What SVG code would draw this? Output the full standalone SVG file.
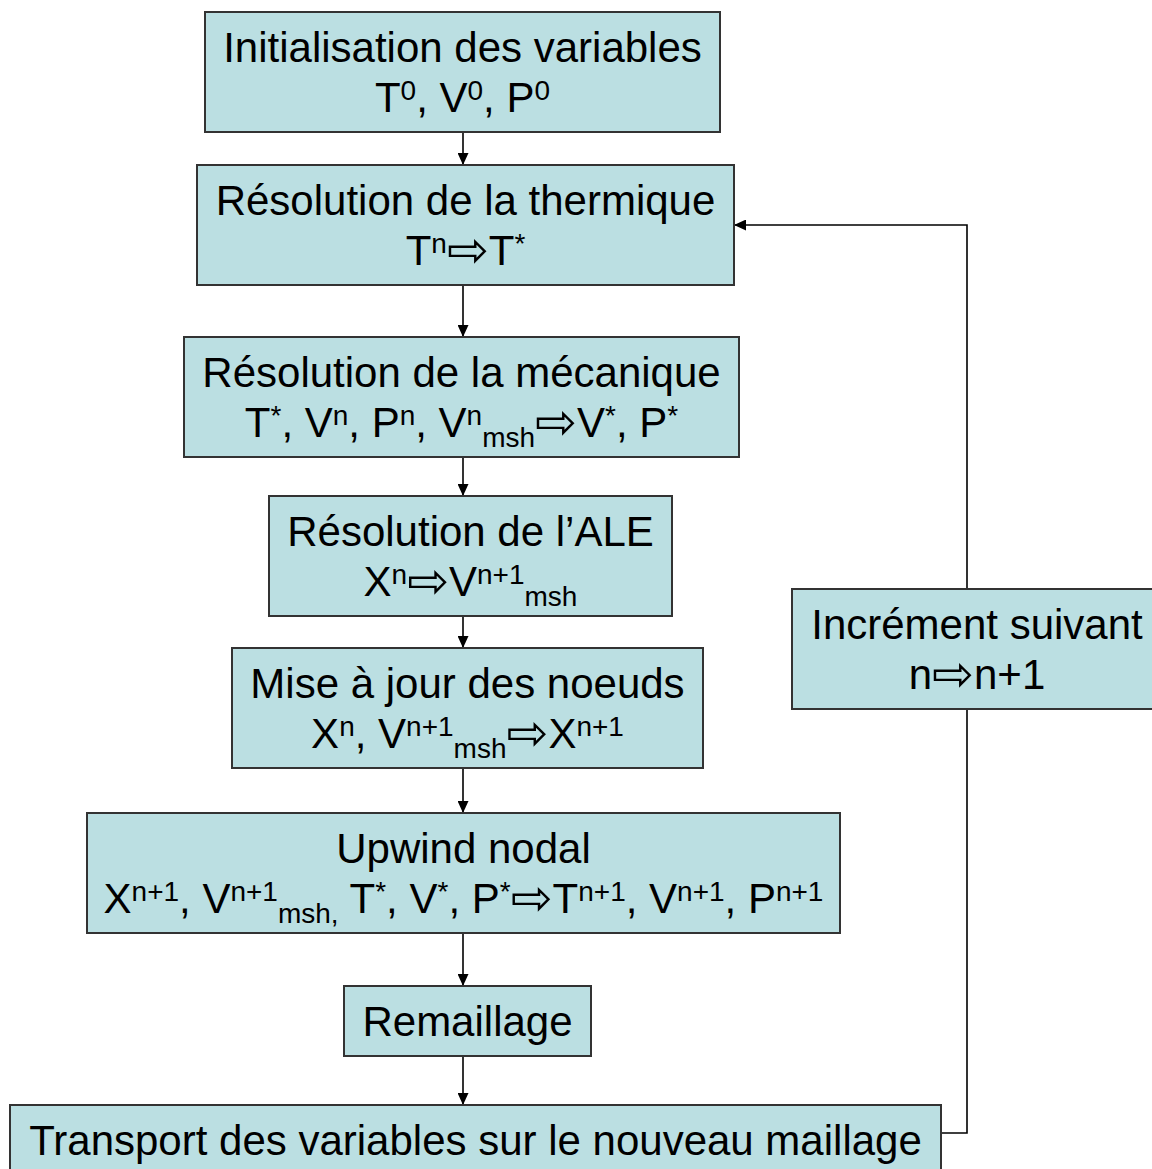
<svg xmlns="http://www.w3.org/2000/svg" width="1152" height="1169" viewBox="0 0 1152 1169">
<style>
.box{fill:#bbdfe2;stroke:#333;stroke-width:2}
text{font-family:"Liberation Sans",Arial,sans-serif;font-size:42px;fill:#000;text-anchor:middle}
.s{font-size:28px}
.a{font-family:"DejaVu Sans",sans-serif;font-size:50px}
.c{fill:none;stroke:#000;stroke-width:1.6}
</style>
<defs>
<marker id="ah" viewBox="0 0 12 11" refX="12" refY="5.5" markerWidth="12" markerHeight="11" markerUnits="userSpaceOnUse" orient="auto">
<path d="M0,0 L12,5.5 L0,11 z" fill="#000"/>
</marker>
</defs>
<rect width="1152" height="1169" fill="#fff"/>
<g id="connectors">
<path class="c" d="M463,132 V165" marker-end="url(#ah)"/>
<path class="c" d="M463,285 V337" marker-end="url(#ah)"/>
<path class="c" d="M463,457 V496" marker-end="url(#ah)"/>
<path class="c" d="M463,616 V648" marker-end="url(#ah)"/>
<path class="c" d="M463,768 V813" marker-end="url(#ah)"/>
<path class="c" d="M463,933 V986" marker-end="url(#ah)"/>
<path class="c" d="M463,1056 V1105" marker-end="url(#ah)"/>
<path class="c" d="M941,1133 H967 V709"/>
<path class="c" d="M967,589 V225 H734" marker-end="url(#ah)"/>
</g>
<g id="init">
<rect class="box" x="205" y="12" width="515" height="120"/>
<text x="462.5" y="62">Initialisation des variables</text>
<text x="462.5" y="112">T<tspan class="s" dy="-12">0</tspan><tspan dy="12">, V</tspan><tspan class="s" dy="-12">0</tspan><tspan dy="12">, P</tspan><tspan class="s" dy="-12">0</tspan></text>
</g>
<g id="thermique">
<rect class="box" x="197" y="165" width="537" height="120"/>
<text x="465.5" y="215">Résolution de la thermique</text>
<text x="465.5" y="265">T<tspan class="s" dy="-12">n</tspan><tspan class="a" dy="14">⇨</tspan><tspan dy="-2">T</tspan><tspan class="s" dy="-12">*</tspan></text>
</g>
<g id="mecanique">
<rect class="box" x="184" y="337" width="555" height="120"/>
<text x="461.5" y="387">Résolution de la mécanique</text>
<text x="461.5" y="437">T<tspan class="s" dy="-12">*</tspan><tspan dy="12">, V</tspan><tspan class="s" dy="-12">n</tspan><tspan dy="12">, P</tspan><tspan class="s" dy="-12">n</tspan><tspan dy="12">, V</tspan><tspan class="s" dy="-12">n</tspan><tspan class="s" dy="22">msh</tspan><tspan class="a" dy="-8">⇨</tspan><tspan dy="-2">V</tspan><tspan class="s" dy="-12">*</tspan><tspan dy="12">, P</tspan><tspan class="s" dy="-12">*</tspan></text>
</g>
<g id="ale">
<rect class="box" x="269" y="496" width="403" height="120"/>
<text x="470.5" y="546">Résolution de l’ALE</text>
<text x="470.5" y="596">X<tspan class="s" dy="-12">n</tspan><tspan class="a" dy="14">⇨</tspan><tspan dy="-2">V</tspan><tspan class="s" dy="-12">n+1</tspan><tspan class="s" dy="22">msh</tspan></text>
</g>
<g id="miseajour">
<rect class="box" x="232" y="648" width="471" height="120"/>
<text x="467.5" y="698">Mise à jour des noeuds</text>
<text x="467.5" y="748">X<tspan class="s" dy="-12">n</tspan><tspan dy="12">, V</tspan><tspan class="s" dy="-12">n+1</tspan><tspan class="s" dy="22">msh</tspan><tspan class="a" dy="-8">⇨</tspan><tspan dy="-2">X</tspan><tspan class="s" dy="-12">n+1</tspan></text>
</g>
<g id="upwind">
<rect class="box" x="87" y="813" width="753" height="120"/>
<text x="463.5" y="863">Upwind nodal</text>
<text x="463.5" y="913">X<tspan class="s" dy="-12">n+1</tspan><tspan dy="12">, V</tspan><tspan class="s" dy="-12">n+1</tspan><tspan class="s" dy="22">msh,</tspan><tspan dy="-10"> T</tspan><tspan class="s" dy="-12">*</tspan><tspan dy="12">, V</tspan><tspan class="s" dy="-12">*</tspan><tspan dy="12">, P</tspan><tspan class="s" dy="-12">*</tspan><tspan class="a" dy="14">⇨</tspan><tspan dy="-2">T</tspan><tspan class="s" dy="-12">n+1</tspan><tspan dy="12">, V</tspan><tspan class="s" dy="-12">n+1</tspan><tspan dy="12">, P</tspan><tspan class="s" dy="-12">n+1</tspan></text>
</g>
<g id="remaillage">
<rect class="box" x="344" y="986" width="247" height="70"/>
<text x="467.5" y="1036">Remaillage</text>
</g>
<g id="transport">
<rect class="box" x="10" y="1105" width="931" height="80"/>
<text x="475.5" y="1155">Transport des variables sur le nouveau maillage</text>
</g>
<g id="increment">
<rect class="box" x="792" y="589" width="370" height="120"/>
<text x="977" y="639">Incrément suivant</text>
<text x="977" y="689">n<tspan class="a" dy="2">⇨</tspan><tspan dy="-2">n+1</tspan></text>
</g>
</svg>
